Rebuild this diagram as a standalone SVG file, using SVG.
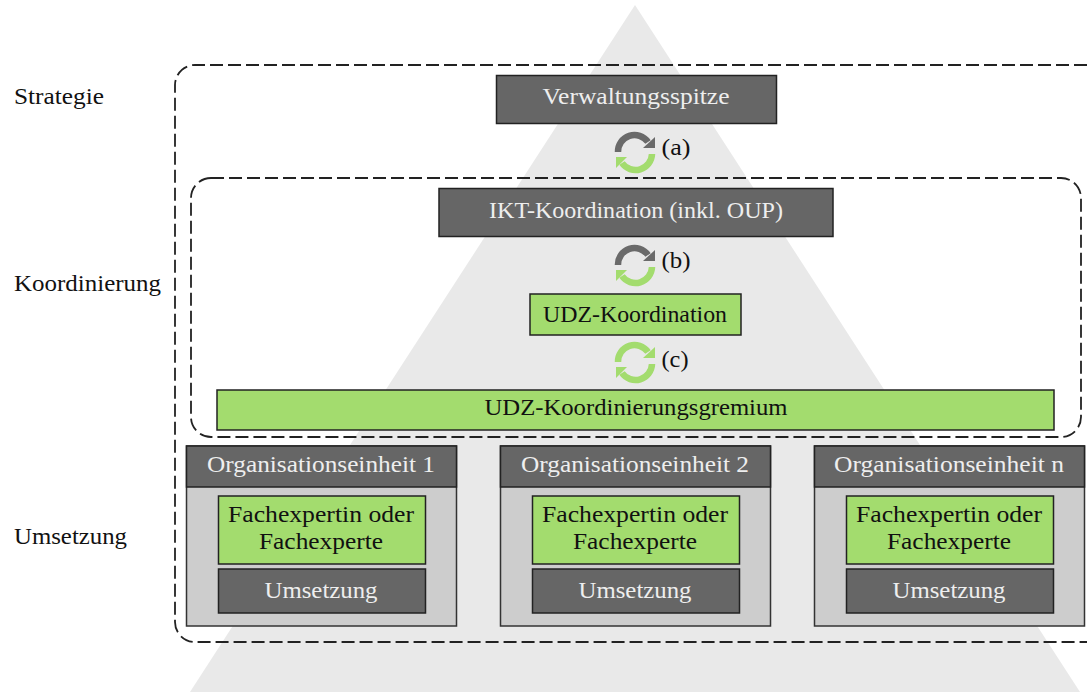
<svg xmlns="http://www.w3.org/2000/svg" width="1087" height="692" viewBox="0 0 1087 692">
<defs>
<style>
text{font-family:"Liberation Serif","Times New Roman",serif;font-size:24px;text-anchor:middle}
.l{text-anchor:start;fill:#111}
.w{fill:#eee}
.k{fill:#111}
.d{fill:#666;stroke:#222;stroke-width:1.5}
.g{fill:#a3dc6e;stroke:#222;stroke-width:1.5}
.p{fill:#cdcdcd;stroke:#333;stroke-width:1.5}
.f{fill:none;stroke:#222;stroke-width:1.8;stroke-dasharray:13 5}
.ag{fill:none;stroke:#6a6a6a;stroke-width:6.500}
.al{fill:none;stroke:#a3dc6e;stroke-width:6.500}
.hg{fill:#6a6a6a}
.hl{fill:#a3dc6e}
</style>
<g id="cycG"><path class="ag" d="M-17 0A16.500 16.500 0 0 1 13 -10"/><path class="hg" d="M8 -4L20 -4L20 -15Z"/><path class="al" d="M17 2A16.500 16.500 0 0 1 -13 11"/><path class="hl" d="M-8 5L-19 5L-19 16Z"/></g>
<g id="cycL"><path class="al" d="M-17 0A16.500 16.500 0 0 1 13 -10"/><path class="hl" d="M8 -4L20 -4L20 -15Z"/><path class="al" d="M17 2A16.500 16.500 0 0 1 -13 11"/><path class="hl" d="M-8 5L-19 5L-19 16Z"/></g>
</defs>
<rect width="1087" height="692" fill="#fff"/>
<polygon points="635,5 1080,692 190,692" fill="#e9e9e9"/>
<g id="connectors">
<path class="f" d="M1087 65H195A20 20 0 0 0 175 85V622A20 20 0 0 0 195 642H1087"/>
<rect class="f" x="191" y="178" width="890" height="259" rx="20"/>
<use href="#cycG" x="635" y="152"/>
<use href="#cycG" x="635" y="265"/>
<use href="#cycL" x="635" y="362"/>
</g>
<g id="label-strategie"><text class="l" x="14" y="104" textLength="90" lengthAdjust="spacingAndGlyphs">Strategie</text></g>
<g id="label-koordinierung"><text class="l" x="14" y="291" textLength="147" lengthAdjust="spacingAndGlyphs">Koordinierung</text></g>
<g id="label-umsetzung"><text class="l" x="14" y="544" textLength="113" lengthAdjust="spacingAndGlyphs">Umsetzung</text></g>
<g id="label-a"><text class="k" x="676" y="155" textLength="29" lengthAdjust="spacingAndGlyphs">(a)</text></g>
<g id="label-b"><text class="k" x="676" y="268" textLength="29" lengthAdjust="spacingAndGlyphs">(b)</text></g>
<g id="label-c"><text class="k" x="675" y="367" textLength="27" lengthAdjust="spacingAndGlyphs">(c)</text></g>
<g id="verwaltungsspitze"><rect class="d" x="496.500" y="75.500" width="280" height="48"/><text class="w" x="636" y="104" textLength="187" lengthAdjust="spacingAndGlyphs">Verwaltungsspitze</text></g>
<g id="ikt"><rect class="d" x="439" y="188.500" width="394" height="48"/><text class="w" x="636" y="218" textLength="294" lengthAdjust="spacingAndGlyphs">IKT-Koordination (inkl. OUP)</text></g>
<g id="udz"><rect class="g" x="530" y="294" width="211" height="41"/><text class="k" x="635" y="322" textLength="184" lengthAdjust="spacingAndGlyphs">UDZ-Koordination</text></g>
<g id="gremium"><rect class="g" x="217" y="390" width="837" height="40"/><text class="k" x="636" y="415" textLength="303" lengthAdjust="spacingAndGlyphs">UDZ-Koordinierungsgremium</text></g>
<g id="org1"><rect class="p" x="186.500" y="446" width="270" height="180"/><rect class="d" x="186.500" y="446" width="270" height="41"/><text class="w" x="321" y="472" textLength="228" lengthAdjust="spacingAndGlyphs">Organisationseinheit 1</text>
<rect class="g" x="218.500" y="496" width="207" height="68"/><text class="k" x="321" y="522" textLength="186" lengthAdjust="spacingAndGlyphs">Fachexpertin oder</text><text class="k" x="321" y="549" textLength="124" lengthAdjust="spacingAndGlyphs">Fachexperte</text>
<rect class="d" x="218.500" y="569" width="207" height="44"/><text class="w" x="321" y="598" textLength="113" lengthAdjust="spacingAndGlyphs">Umsetzung</text></g>
<g id="org2"><rect class="p" x="500.500" y="446" width="270" height="180"/><rect class="d" x="500.500" y="446" width="270" height="41"/><text class="w" x="635" y="472" textLength="228" lengthAdjust="spacingAndGlyphs">Organisationseinheit 2</text>
<rect class="g" x="532.500" y="496" width="207" height="68"/><text class="k" x="635" y="522" textLength="186" lengthAdjust="spacingAndGlyphs">Fachexpertin oder</text><text class="k" x="635" y="549" textLength="124" lengthAdjust="spacingAndGlyphs">Fachexperte</text>
<rect class="d" x="532.500" y="569" width="207" height="44"/><text class="w" x="635" y="598" textLength="113" lengthAdjust="spacingAndGlyphs">Umsetzung</text></g>
<g id="orgn"><rect class="p" x="814.500" y="446" width="270" height="180"/><rect class="d" x="814.500" y="446" width="270" height="41"/><text class="w" x="949" y="472" textLength="230" lengthAdjust="spacingAndGlyphs">Organisationseinheit n</text>
<rect class="g" x="846.500" y="496" width="207" height="68"/><text class="k" x="949" y="522" textLength="186" lengthAdjust="spacingAndGlyphs">Fachexpertin oder</text><text class="k" x="949" y="549" textLength="124" lengthAdjust="spacingAndGlyphs">Fachexperte</text>
<rect class="d" x="846.500" y="569" width="207" height="44"/><text class="w" x="949" y="598" textLength="113" lengthAdjust="spacingAndGlyphs">Umsetzung</text></g>
</svg>
